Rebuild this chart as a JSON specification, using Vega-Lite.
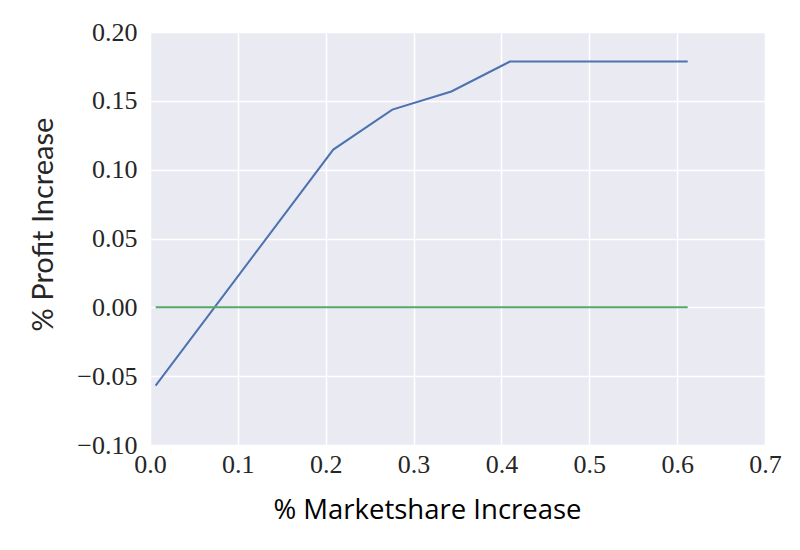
{
  "$schema": "https://vega.github.io/schema/vega-lite/v6.json",
  "autosize": "none",
  "width": 615,
  "height": 413,
  "padding": {"left": 150, "top": 32, "right": 35, "bottom": 105},
  "background": "white",
  "config": {
    "view": {"fill": "#EAEAF2", "stroke": null},
    "axis": {
      "grid": true, "gridColor": "white", "gridWidth": 1.5,
      "domain": false, "ticks": false,
      "labelFont": "Liberation Serif", "labelFontSize": 26, "labelColor": "#262626"
    }
  },
  "data": {"values": [
    {"x": 0.0064, "y": -0.0569, "series": "profit"},
    {"x": 0.2086, "y": 0.1146, "series": "profit"},
    {"x": 0.2758, "y": 0.1436, "series": "profit"},
    {"x": 0.343, "y": 0.1568, "series": "profit"},
    {"x": 0.4096, "y": 0.1785, "series": "profit"},
    {"x": 0.612, "y": 0.1785, "series": "profit"},
    {"x": 0.0064, "y": 0.0, "series": "zero"},
    {"x": 0.612, "y": 0.0, "series": "zero"}
  ]},
  "mark": {"type": "line", "strokeWidth": 2},
  "encoding": {
    "x": {
      "field": "x", "type": "quantitative",
      "scale": {"domain": [0, 0.7], "nice": false, "zero": false},
      "axis": {
        "values": [0, 0.1, 0.2, 0.3, 0.4, 0.5, 0.6, 0.7], "format": ".1f",
        "labelPadding": 6, "labelFlush": false,
        "title": "% Marketshare Increase", "titleFont": "Open Sans", "titleFontSize": 27.5,
        "titleFontWeight": "normal", "titleColor": "black", "titlePadding": 19,
        "titleX": 277, "titleAlign": "center"
      }
    },
    "y": {
      "field": "y", "type": "quantitative",
      "scale": {"domain": [-0.1, 0.2], "nice": false, "zero": false},
      "axis": {
        "values": [-0.1, -0.05, 0, 0.05, 0.1, 0.15, 0.2], "format": ".2f",
        "labelPadding": 13, "labelFlush": false,
        "title": "% Profit Increase", "titleFont": "Lato", "titleFontSize": 29,
        "titleFontWeight": "normal", "titleColor": "#262626", "titlePadding": 18,
        "titleY": 192, "titleAlign": "center"
      }
    },
    "color": {
      "field": "series", "type": "nominal",
      "scale": {"domain": ["profit", "zero"], "range": ["#4C72B0", "#55A868"]},
      "legend": null
    }
  }
}
